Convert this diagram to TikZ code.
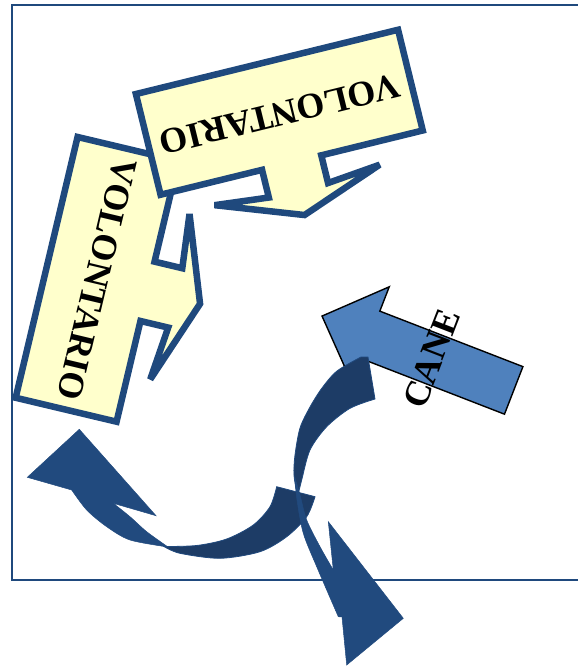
\documentclass[tikz,border=0pt]{standalone}
\usepackage{fontspec}
\setmainfont{Liberation Serif}
\definecolor{frameblue}{RGB}{31,73,125}
\definecolor{calloutfill}{RGB}{255,255,204}
\definecolor{canefill}{RGB}{79,129,189}
\definecolor{arrowlight}{RGB}{33,74,126}
\definecolor{arrowdark}{RGB}{29,60,102}
\tikzset{
  frameline/.style={draw=frameblue, line width=1.6pt},
  calloutbox/.style={draw=frameblue, fill=calloutfill, line width=6.5pt, line join=miter, miter limit=3},
  bigtext/.style={font=\bfseries\fontsize{36}{36}\selectfont, text=black, inner sep=0pt},
  canearrow/.style={draw=black, fill=canefill, line width=1.4pt, line join=miter},
  darkpart/.style={fill=arrowdark, draw=arrowlight, line width=0.8pt},
  lightpart/.style={fill=arrowlight, draw=arrowlight, line width=0.5pt}
}
\begin{document}
\begin{tikzpicture}[x=1pt,y=-1pt]
\useasboundingbox (0,0) rectangle (578,667);
% frame
\draw[frameline] (578,5) -- (12,5) -- (12,580) -- (578,580);

% left callout
\begin{scope}[shift={(43.4pt,-266.6pt)}, x={(-0.231pt,-0.973pt)}, y={(0.973pt,-0.231pt)}]
  \draw[calloutbox] (-134,3.3) -- (134,3.3) -- (134,107) -- (30.5,107) -- (30.5,135.5)
     -- (85,130) -- (0,161) -- (-85,130) -- (-30.5,135.5) -- (-30.5,107) -- (-134,107) -- cycle;
  \node[bigtext, rotate=-103.4] (lefttext) at (0,55) {VOLONTARIO};
\end{scope}

% top callout
\begin{scope}[shift={(266.2pt,-58.7pt)}, x={(0.971pt,0.238pt)}, y={(0.238pt,-0.971pt)}]
  \draw[calloutbox] (-135,3.3) -- (135,3.3) -- (135,107) -- (30.5,107) -- (30.5,135.5)
     -- (85,130) -- (0,161) -- (-85,130) -- (-30.5,135.5) -- (-30.5,107) -- (-135,107) -- cycle;
  \node[bigtext, rotate=193.8] (toptext) at (0,57) {VOLONTARIO};
\end{scope}

% CANE arrow
\begin{scope}[shift={(513.7,390.4)}, rotate=158.8]
  \draw[canearrow] (0,-25.5) -- (153.5,-25.5) -- (153.5,-51.6) -- (205.6,0)
     -- (153.5,51.6) -- (153.5,25.5) -- (0,25.5) -- cycle;
  \node[bigtext, rotate=68.8] (canetext) at (88,0) {CANE};
\end{scope}

% curved arrow 2 (lower left)
\filldraw[darkpart] plot[smooth] coordinates {(315,496.7) (306.7,516.7) (286.7,536.7) (260,551.7) (220,558.3) (180,553.3) (164,546.5)}
   -- plot[smooth] coordinates {(164,546.5) (196.7,545.5) (226.7,539) (253.3,525) (270,506.7) (276.7,486.7)} -- cycle;
\filldraw[lightpart] plot[smooth] coordinates {(168,547) (130,540) (106.7,526.7) (86.7,510) (71.7,490)}
   -- (27.3,477.3) -- (79.3,429.3) -- (156,515.7) -- (113.3,503.3)
   -- plot[smooth] coordinates {(113.3,503.3) (130,516.7) (146.7,531.7) (168,547)} -- cycle;

% curved arrow 1 (from CANE down)
\filldraw[darkpart] (361,357) -- (368,357) -- (375,399)
   -- plot[smooth] coordinates {(375,399) (350,408.3) (326.7,426.7) (310,450) (301.7,480) (297.5,497)}
   -- plot[smooth] coordinates {(297.5,497) (294,475) (295,455) (300,428) (310,407) (322,388) (337,371) (361,357)} -- cycle;
\filldraw[lightpart] plot[smooth] coordinates {(295,478) (297,500) (303.3,533.3) (316.7,566.7) (338.3,616.7)}
   -- (342,617) -- (346.7,665) -- (403.3,618.3) -- (328.3,521.7) -- (333.3,570)
   -- plot[smooth] coordinates {(333.3,570) (320,546.7) (306.7,520) (300,495) (295,478)} -- cycle;
\end{tikzpicture}
\end{document}
